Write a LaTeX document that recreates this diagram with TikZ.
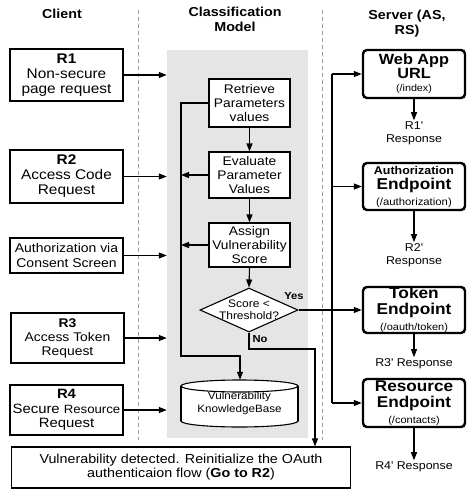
\documentclass[tikz,border=0pt]{standalone}
\usepackage{fontspec}
\setmainfont{Liberation Sans}[FakeStretch=1.1]
\usetikzlibrary{arrows.meta,shapes.geometric}
\newcommand\fsz[2]{\fontsize{#1}{#2}\selectfont}
\begin{document}
\begin{tikzpicture}[x=1pt,y=-1pt,
  every node/.style={inner sep=0pt, align=center, text=black},
  conn/.style={line width=1.1pt},
  arr/.style={conn, -{Triangle[length=8pt,width=6pt]}},
  lbox/.style={draw, line width=1.1pt, fill=white, minimum width=113pt},
  mbox/.style={draw, line width=1.1pt, fill=white, minimum width=81pt, font=\fsz{12.5}{14}},
  rbox/.style={draw, line width=2.4pt, rounded corners=4pt, fill=white, minimum width=102pt},
  resp/.style={inner sep=1.5pt, font=\fsz{11.3}{13}},
  sepline/.style={draw=gray!75, line width=1pt, dash pattern=on 4pt off 3pt},
  head/.style={font=\fsz{13}{15}\bfseries},
  flag/.style={font=\fsz{10.2}{12}\bfseries}
]
\useasboundingbox (0,0) rectangle (474,496);

% model background
\node[fill=gray!20, minimum width=141pt, minimum height=388pt] (model) at (237.5,244) {};

% separators
\draw[sepline] (138,10) -- (138,440);
\draw[sepline] (322,10) -- (322,440);

% headers
\node[head] (hclient) at (62,14) {Client};
\node[head] (hmodel) at (235,19.5) {Classification\\Model};
\node[head] (hserver) at (407,24) {Server (AS,\\RS)};

% client boxes
\node[lbox, minimum height=52pt, font=\fsz{14}{15}] (r1) at (66.5,75) {\textbf{R1}\\Non-secure\\page request};
\node[lbox, minimum height=53pt, font=\fsz{14}{15}] (r2) at (66.5,176.5) {\textbf{R2}\\Access Code\\Request};
\node[lbox, minimum height=35pt, font=\fsz{12.7}{14.3}] (cons) at (66.5,255.5) {Authorization via\\Consent Screen};
\node[lbox, minimum height=50pt, font=\fsz{12.6}{14}] (r3) at (67.5,338) {\textbf{R3}\\Access Token\\Request};
\node[lbox, minimum height=50pt, font=\fsz{13.5}{14.5}] (r4) at (66.5,410) {\textbf{R4}\\Secure {\fsz{12}{14.5}Resource}\\Request};
\node[lbox, minimum width=339pt, minimum height=41pt, font=\fsz{13}{14}] (bot) at (181,467.5) {Vulnerability detected. Reinitialize the OAuth\\authenticaion flow (\textbf{Go to R2})};

% model boxes
\node[mbox, minimum height=48pt] (ret) at (249.5,103) {Retrieve\\Parameters\\values};
\node[mbox, minimum height=46pt] (eva) at (249.5,175) {Evaluate\\Parameter\\Values};
\node[mbox, minimum height=44pt] (asg) at (249.5,245) {Assign\\Vulnerability\\Score};
\node[diamond, draw, line width=1.1pt, fill=white, minimum width=98pt, minimum height=44pt] (dec) at (249,310) {};
\node[font=\fsz{10.9}{12}] (dectext) at (dec.center) {Score <\\Threshold?};

% knowledge base cylinder
\draw[conn, fill=white] (239.5,421) ellipse [x radius=58.5pt, y radius=6pt];
\fill[white] (181,386) rectangle (298,421);
\draw[conn] (181,386) -- (181,421);
\draw[conn] (298,386) -- (298,421);
\draw[conn, fill=white] (239.5,386) ellipse [x radius=58.5pt, y radius=6pt];
\node[minimum width=117pt, minimum height=47pt, font=\fsz{10.6}{13}] (kb) at (239.5,403.5) {Vulnerability\\KnowledgeBase};

% server boxes
\node[rbox, minimum height=48pt, font=\fsz{14.8}{13}\bfseries] (web) at (414,74) {Web App\\URL\\{\fsz{9.8}{13}\mdseries (/index)}};
\node[rbox, minimum height=47pt, font=\fsz{11.3}{15.5}\bfseries] (auth) at (414,186.5) {Authorization\\{\fsz{15.7}{15.5}Endpoint}\\{\fsz{10.3}{15.5}\mdseries (/authorization)}};
\node[rbox, minimum height=46pt, font=\fsz{15.7}{16}\bfseries] (tok) at (414,310) {Token\\Endpoint\\{\fsz{10}{16}\mdseries (/oauth/token)}};
\node[rbox, minimum height=48pt, font=\fsz{15.6}{16}\bfseries] (res) at (414,403) {Resource\\Endpoint\\{\fsz{10}{16}\mdseries (/contacts)}};

% responses
\node[resp] (r1r) at (414,133.5) {R1\textquotesingle\\Response};
\node[resp] (r2r) at (414,255.5) {R2\textquotesingle\\Response};
\node[resp] (r3r) at (414,364) {R3\textquotesingle{} Response};
\node[resp] (r4r) at (414,467) {R4\textquotesingle{} Response};

% labels
\node[flag] (yes) at (294,296) {Yes};
\node[flag] (no) at (260,339) {No};

% client -> model arrows
\draw[arr] (r1.east) -- (model.west |- r1.east);
\draw[arr] (r2.east) -- (model.west |- r2.east);
\draw[arr] (cons.east) -- (model.west |- cons.east);
\draw[arr] (r3.east) -- (model.west |- r3.east);
\draw[arr] (r4.east) -- (model.west |- r4.east);

% model flow
\draw[arr] (ret.south) -- (eva.north);
\draw[arr] (eva.south) -- (asg.north);
\draw[arr] (asg.south) -- (dec.north);

% feedback line to knowledge base
\coordinate (fbturn) at (181,356);
\coordinate (fbend) at (240,356);
\draw[arr] (ret.west) -| (fbturn) -- (fbend) -- (fbend |- kb.north);
\draw[arr] (eva.west) -- (fbturn |- eva.west);
\draw[arr] (asg.west) -- (fbturn |- asg.west);

% No path
\coordinate (nobend) at (315,349);
\draw[arr] (dec.south) |- (nobend) -- (nobend |- bot.north);

% Yes path and server bus
\coordinate (bus) at (332,0);
\draw[arr] (dec.east) -- (tok.west);
\draw[conn] (bus |- web.west) -- (bus |- res.west);
\draw[arr] (bus |- web.west) -- (web.west);
\draw[arr] (bus |- auth.west) -- (auth.west);
\draw[arr] (bus |- res.west) -- (res.west);

% responses arrows
\draw[arr] (web.south) -- (r1r.north);
\draw[arr] (auth.south) -- (r2r.north);
\draw[arr] (tok.south) -- (r3r.north);
\draw[arr] (res.south) -- (r4r.north);
\end{tikzpicture}
\end{document}
